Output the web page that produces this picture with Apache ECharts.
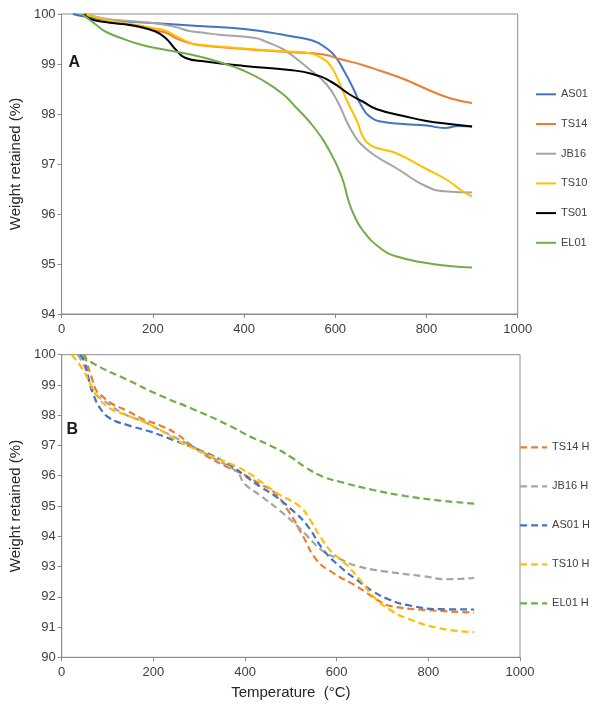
<!DOCTYPE html>
<html>
<head>
<meta charset="utf-8">
<script src="https://cdn.jsdelivr.net/npm/echarts@6/dist/echarts.min.js"></script>
<style>
html,body{margin:0;padding:0;background:#fff;}
#c{width:593px;height:707px;}
</style>
</head>
<body>
<div id="c"></div>
<script>
// ---------- Panel A data ----------
const namesA = ['AS01','TS14','JB16','TS10','TS01','EL01'];
const colorsA = ['#4472C4','#ED7D31','#A5A5A5','#FFC000','#000000','#70AD47'];

const as01T = [25,50,100,200,300,400,450,500,550,580,600,620,640,660,680,700,750,800,840,870,900];
const as01W = [100,99.95,99.88,99.82,99.76,99.7,99.64,99.56,99.47,99.32,99.15,98.85,98.5,98.12,97.92,97.85,97.8,97.77,97.72,97.76,97.75];

const ts14T = [50,100,150,200,230,250,280,300,400,500,575,610,660,700,750,800,850,900];
const ts14W = [100,99.88,99.78,99.68,99.62,99.52,99.42,99.38,99.3,99.24,99.19,99.1,98.98,98.86,98.7,98.5,98.32,98.22];

const jb16T = [50,100,133,200,250,280,315,350,425,450,485,510,540,580,605,625,640,655,685,735,800,845,900];
const jb16W = [100,99.9,99.87,99.82,99.74,99.66,99.62,99.58,99.52,99.44,99.3,99.14,98.92,98.6,98.25,97.85,97.6,97.41,97.18,96.91,96.55,96.45,96.43];

const ts10T = [50,100,150,200,230,250,280,300,400,500,540,570,590,610,625,648,660,677,700,735,800,845,880,900];
const ts10W = [100,99.88,99.8,99.72,99.66,99.56,99.43,99.39,99.31,99.25,99.22,99.12,98.96,98.6,98.28,97.85,97.56,97.38,97.3,97.21,96.9,96.68,96.45,96.35];

const ts01T = [50,60,96,133,169,206,228,250,272,315,400,500,550,590,630,660,690,750,800,850,900];
const ts01W = [100,99.91,99.84,99.8,99.75,99.65,99.52,99.29,99.12,99.05,98.96,98.88,98.8,98.65,98.4,98.25,98.1,97.96,97.86,97.8,97.75];

const el01T = [45,75,96,133,169,206,278,315,352,396,440,485,512,552,590,615,628,640,662,700,735,800,850,900];
const el01W = [100,99.79,99.65,99.51,99.4,99.32,99.2,99.12,99.02,98.88,98.68,98.4,98.15,97.75,97.22,96.72,96.3,96.0,95.65,95.31,95.15,95.02,94.96,94.93];

// ---------- Panel B data ----------
const namesB = ['TS14 H','JB16 H','AS01 H','TS10 H','EL01 H'];
const colorsB = ['#ED7D31','#A5A5A5','#4472C4','#FFC000','#70AD47'];

const ts14hT = [50,55,65,76,91,105,142,178,215,251,287,324,360,400,433,462,498,527,556,593,644,695,716,789,900];
const ts14hW = [100,99.72,99.27,98.8,98.6,98.42,98.15,97.87,97.66,97.38,96.96,96.58,96.3,96.02,95.72,95.47,94.76,93.99,93.22,92.78,92.34,91.84,91.7,91.57,91.48];

const jb16hT = [35,50,62,70,105,142,178,215,251,287,338,382,400,433,476,513,535,571,607,644,700,789,840,900];
const jb16hW = [100,99.6,99.1,98.78,98.34,98.0,97.79,97.51,97.24,96.96,96.52,96.13,95.72,95.35,94.85,94.35,94.02,93.5,93.25,93.02,92.85,92.68,92.58,92.62];

const as01hT = [40,50,60,70,84,105,142,193,243,300,360,400,433,462,498,535,571,607,644,680,716,753,825,900];
const as01hW = [100,99.75,99.1,98.65,98.23,97.9,97.68,97.46,97.18,96.85,96.42,96.0,95.64,95.37,94.93,94.37,93.55,93.0,92.56,92.17,91.9,91.73,91.59,91.58];

const ts10hT = [22,47,62,76,105,142,178,215,251,287,338,382,411,433,476,520,542,564,585,622,651,680,716,753,825,900];
const ts10hW = [100,99.49,99.05,98.65,98.23,98.0,97.79,97.51,97.18,96.91,96.58,96.3,96.06,95.82,95.37,94.98,94.54,93.99,93.55,93.05,92.56,92.01,91.57,91.29,90.96,90.83];

const el01hT = [44,70,142,215,287,360,411,460,500,535,570,607,680,750,825,900];
const el01hW = [100,99.7,99.18,98.65,98.2,97.7,97.3,96.96,96.62,96.25,95.97,95.8,95.53,95.33,95.18,95.08];

// ---------- Axis ticks ----------
const xTicks = {min:0, max:1000, interval:200};
const yTicksA = {min:94, max:100, interval:1};
const yTicksB = {min:90, max:100, interval:1};

const seriesA = [[as01T,as01W],[ts14T,ts14W],[jb16T,jb16W],[ts10T,ts10W],[ts01T,ts01W],[el01T,el01W]];
const seriesB = [[ts14hT,ts14hW],[jb16hT,jb16hW],[as01hT,as01hW],[ts10hT,ts10hW],[el01hT,el01hW]];

function zip(t,w){ return t.map((v,i)=>[v,w[i]]); }

const FONT = 'Liberation Sans, Arial, sans-serif';
const axisGray = '#8c8c8c';
const labelColor = '#404040';

function xAxis(gridIndex, withName){
  return {
    type:'value', gridIndex, min:xTicks.min, max:xTicks.max, interval:xTicks.interval,
    axisLine:{show:true, lineStyle:{color:axisGray, width:1}},
    axisTick:{show:true, length:4, lineStyle:{color:axisGray}},
    axisLabel:{fontSize:13, color:labelColor, fontFamily:FONT, margin:9, formatter:(v)=>String(v)},
    splitLine:{show:false},
    name: withName ? 'Temperature  (°C)' : '',
    nameLocation:'middle', nameGap:28,
    nameTextStyle:{fontSize:15, color:'#262626', fontFamily:FONT}
  };
}
function yAxis(gridIndex, t){
  return {
    type:'value', gridIndex, min:t.min, max:t.max, interval:t.interval,
    axisLine:{show:true, lineStyle:{color:axisGray, width:1}},
    axisTick:{show:true, length:4, lineStyle:{color:axisGray}},
    axisLabel:{fontSize:13, color:labelColor, fontFamily:FONT, margin:6, formatter:(v)=>String(v)},
    splitLine:{show:false},
    name:'Weight retained (%)', nameLocation:'middle', nameGap:33,
    nameTextStyle:{fontSize:15, color:'#262626', fontFamily:FONT}
  };
}

const series = [];
seriesA.forEach((s,i)=>{
  series.push({
    name:namesA[i], type:'line', xAxisIndex:0, yAxisIndex:0,
    data:zip(s[0],s[1]), smooth:0.5, symbol:'none', showSymbol:false,
    lineStyle:{color:colorsA[i], width:2}, itemStyle:{color:colorsA[i]},
    z: 2+i
  });
});
seriesB.forEach((s,i)=>{
  series.push({
    name:namesB[i], type:'line', xAxisIndex:1, yAxisIndex:1,
    data:zip(s[0],s[1]), smooth:0.5, symbol:'none', showSymbol:false,
    lineStyle:{color:colorsB[i], width:2.2, type:[7,4]}, itemStyle:{color:colorsB[i]},
    z: 2+i
  });
});

const legendItemStyle = {opacity:0, color:'rgba(0,0,0,0)', borderWidth:0};

const option = {
  animation:false,
  backgroundColor:'#ffffff',
  grid:[
    {left:61, top:14, width:456.7, height:300, show:true, borderColor:axisGray, borderWidth:1, containLabel:false},
    {left:61.7, top:354.7, width:458.3, height:302.6, show:true, borderColor:axisGray, borderWidth:1, containLabel:false}
  ],
  xAxis:[xAxis(0,false), xAxis(1,true)],
  yAxis:[yAxis(0,yTicksA), yAxis(1,yTicksB)],
  legend:[
    {data:namesA, orient:'vertical', left:535, top:87.3, padding:0, itemWidth:20, itemHeight:14, itemGap:15.7,
     itemStyle:legendItemStyle, lineStyle:{width:2},
     textStyle:{fontSize:11, color:labelColor, fontFamily:FONT, lineHeight:14}},
    {data:namesB, orient:'vertical', left:519, top:440.3, padding:0, itemWidth:27, itemHeight:14, itemGap:25,
     itemStyle:legendItemStyle, lineStyle:{width:2.2},
     textStyle:{fontSize:11, color:labelColor, fontFamily:FONT, lineHeight:14}}
  ],
  graphic:[
    {type:'text', left:68.5, top:55, style:{text:'A', font:'bold 16px '+FONT, fill:'#1a1a1a'}},
    {type:'text', left:66.5, top:421.5, style:{text:'B', font:'bold 16px '+FONT, fill:'#1a1a1a'}}
  ],
  series
};

const chart = echarts.init(document.getElementById('c'), null, {renderer:'canvas'});
chart.setOption(option);
</script>
</body>
</html>
